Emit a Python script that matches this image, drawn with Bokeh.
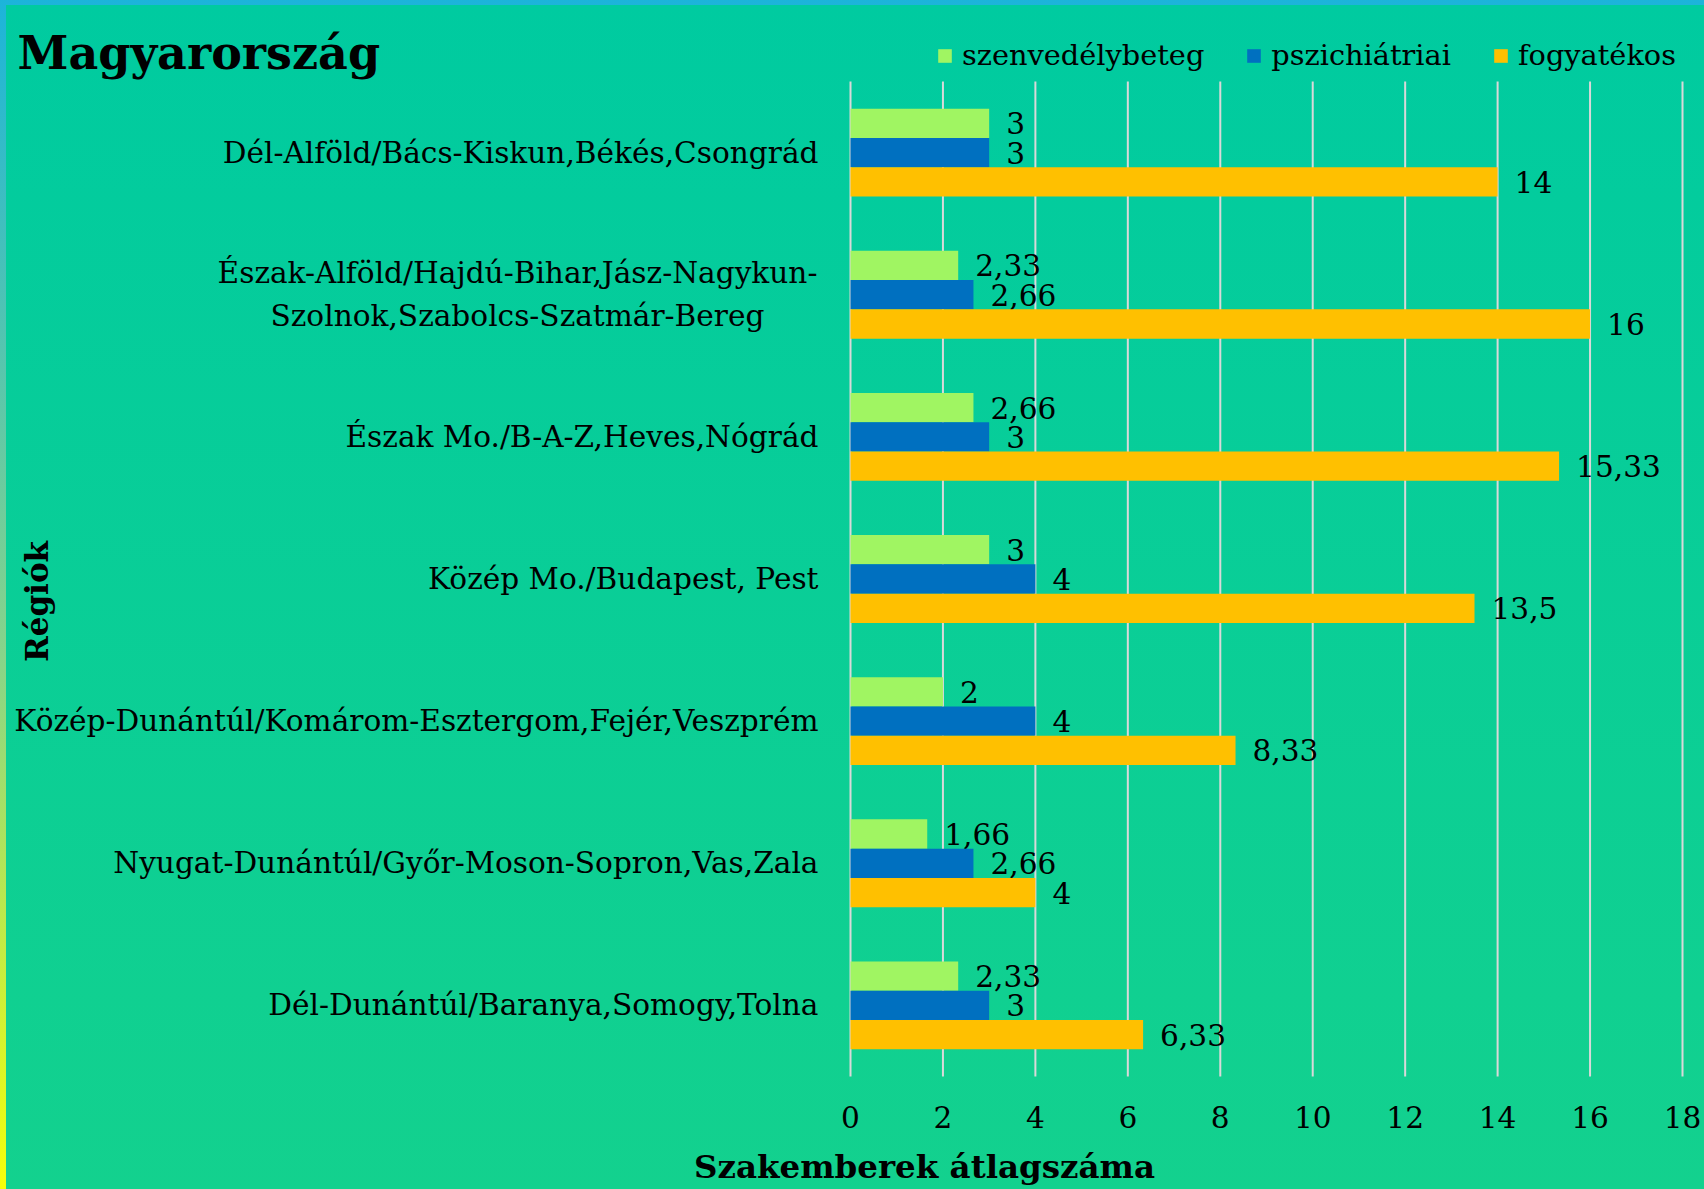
import math
from bokeh.plotting import figure
from bokeh.models import Range1d, Label, ColumnDataSource
from bokeh.core.properties import value
from bokeh.embed import file_html
from bokeh.resources import INLINE

categories = [
    "Dél-Alföld/Bács-Kiskun,Békés,Csongrád",
    "Észak-Alföld/Hajdú-Bihar,Jász-Nagykun-\nSzolnok,Szabolcs-Szatmár-Bereg",
    "Észak Mo./B-A-Z,Heves,Nógrád",
    "Közép Mo./Budapest, Pest",
    "Közép-Dunántúl/Komárom-Esztergom,Fejér,Veszprém",
    "Nyugat-Dunántúl/Győr-Moson-Sopron,Vas,Zala",
    "Dél-Dunántúl/Baranya,Somogy,Tolna",
]
szenvedelybeteg = [3, 2.33, 2.66, 3, 2, 1.66, 2.33]
pszichiatriai = [3, 2.66, 3, 4, 4, 2.66, 3]
fogyatekos = [14, 16, 15.33, 13.5, 8.33, 4, 6.33]
series_names = ["szenvedélybeteg", "pszichiátriai", "fogyatékos"]
x_ticks = [0, 2, 4, 6, 8, 10, 12, 14, 16, 18]
x_tick_labels = [str(t) for t in x_ticks]
title_text = "Magyarország"
x_title = "Szakemberek átlagszáma"
y_title = "Régiók"

FONT = "DejaVu Serif"
FS = "29.6px"
colors = ["#A0F562", "#0070C0", "#FFC000"]

# ---- layout (pixels inside the figure) ----
W, H = 1698, 1184
F_LEFT, F_RIGHT, F_TOP, F_BOTTOM = 844, 1676, 76, 1071   # plot area
XMAX = 18
n = len(categories)
px_x = (F_RIGHT - F_LEFT) / XMAX
px_y = (F_BOTTOM - F_TOP) / n
x_range = Range1d(-F_LEFT / px_x, XMAX + (W - F_RIGHT) / px_x)
y_range = Range1d(-(H - F_BOTTOM) / px_y, n + F_TOP / px_y)

def fmt(v):
    return f"{v:g}".replace(".", ",")

ypos = [n - i - 0.5 for i in range(n)]
bh = 0.206
offsets = [bh, 0, -bh]
series = [szenvedelybeteg, pszichiatriai, fogyatekos]

p = figure(width=W, height=H, output_backend="svg", toolbar_location=None,
           x_range=x_range, y_range=y_range, title=None,
           x_axis_location=None, y_axis_location=None,
           min_border=0, min_border_left=0, min_border_right=0,
           min_border_top=0, min_border_bottom=0)
p.background_fill_alpha = 0
p.border_fill_alpha = 0
p.outline_line_color = None
p.grid.visible = False
p.styles = {"background-image": "linear-gradient(to bottom, #00CBA0, #13D18E)"}

# grid lines (vertical, across the category area)
p.segment(x0=x_ticks, x1=x_ticks, y0=[0] * len(x_ticks), y1=[n] * len(x_ticks),
          line_color="#D9D9D9", line_width=2)

for i in range(3):
    src = ColumnDataSource(dict(
        y=[y + offsets[i] for y in ypos],
        v=series[i],
        lab=[fmt(v) for v in series[i]],
    ))
    p.hbar(y="y", left=0, right="v", height=bh, source=src,
           fill_color=colors[i], line_color=None, legend_label=series_names[i])
    p.text(x="v", y="y", text="lab", source=src, x_offset=17,
           text_align="left", text_baseline="middle",
           text_font=value(FONT), text_font_size=FS, text_color="#000000")

# category labels (y axis)
cat_align = ["center" if "\n" in c else "right" for c in categories]
cat_off = [-333 if "\n" in c else -32 for c in categories]
csrc = ColumnDataSource(dict(y=ypos, text=categories, align=cat_align, off=cat_off,
                             x=[0] * n))
p.text(x="x", y="y", text="text", source=csrc, x_offset="off", text_align="align",
       text_baseline="middle", text_font=value(FONT), text_font_size=FS,
       text_color="#000000", text_line_height=1.25)

# x tick labels
tsrc = ColumnDataSource(dict(x=x_ticks, y=[0] * len(x_ticks), text=x_tick_labels))
p.text(x="x", y="y", text="text", source=tsrc, y_offset=40, text_align="center",
       text_baseline="middle", text_font=value(FONT), text_font_size=FS,
       text_color="#000000")

lg = p.legend[0]
lg.orientation = "horizontal"
lg.location = (930, 1117)
lg.background_fill_alpha = 0
lg.border_line_color = None
lg.padding = 0
lg.margin = 0
lg.spacing = 41
lg.glyph_width = 17
lg.glyph_height = 17
lg.label_standoff = 9
lg.label_text_font = FONT
lg.label_text_font_size = "28.8px"
lg.label_text_color = "#000000"

p.add_layout(Label(x=11, y=H - 47, x_units="screen", y_units="screen", text=title_text,
                   text_font=FONT, text_font_size="46px", text_font_style="bold",
                   text_align="left", text_baseline="middle", text_color="#000000"))
p.add_layout(Label(x=30, y=H - 596, x_units="screen", y_units="screen", text=y_title,
                   angle=math.pi / 2, text_font=FONT, text_font_size="31px", text_font_style="bold",
                   text_align="center", text_baseline="middle", text_color="#000000"))
p.add_layout(Label(x=918, y=H - 1161, x_units="screen", y_units="screen", text=x_title,
                   text_font=FONT, text_font_size="32.5px", text_font_style="bold",
                   text_align="center", text_baseline="middle", text_color="#000000"))

html = file_html(p, INLINE)
css = ("<style>html,body{overflow:hidden;}"
       "body{padding:5px 0 0 6px !important;"
       "background:linear-gradient(to bottom,#1CB4DA 0%,#86D48A 55%,#F5FF0A 100%);}</style>")
html = html.replace("</head>", css + "</head>", 1)
open("out.html", "w").write(html)
